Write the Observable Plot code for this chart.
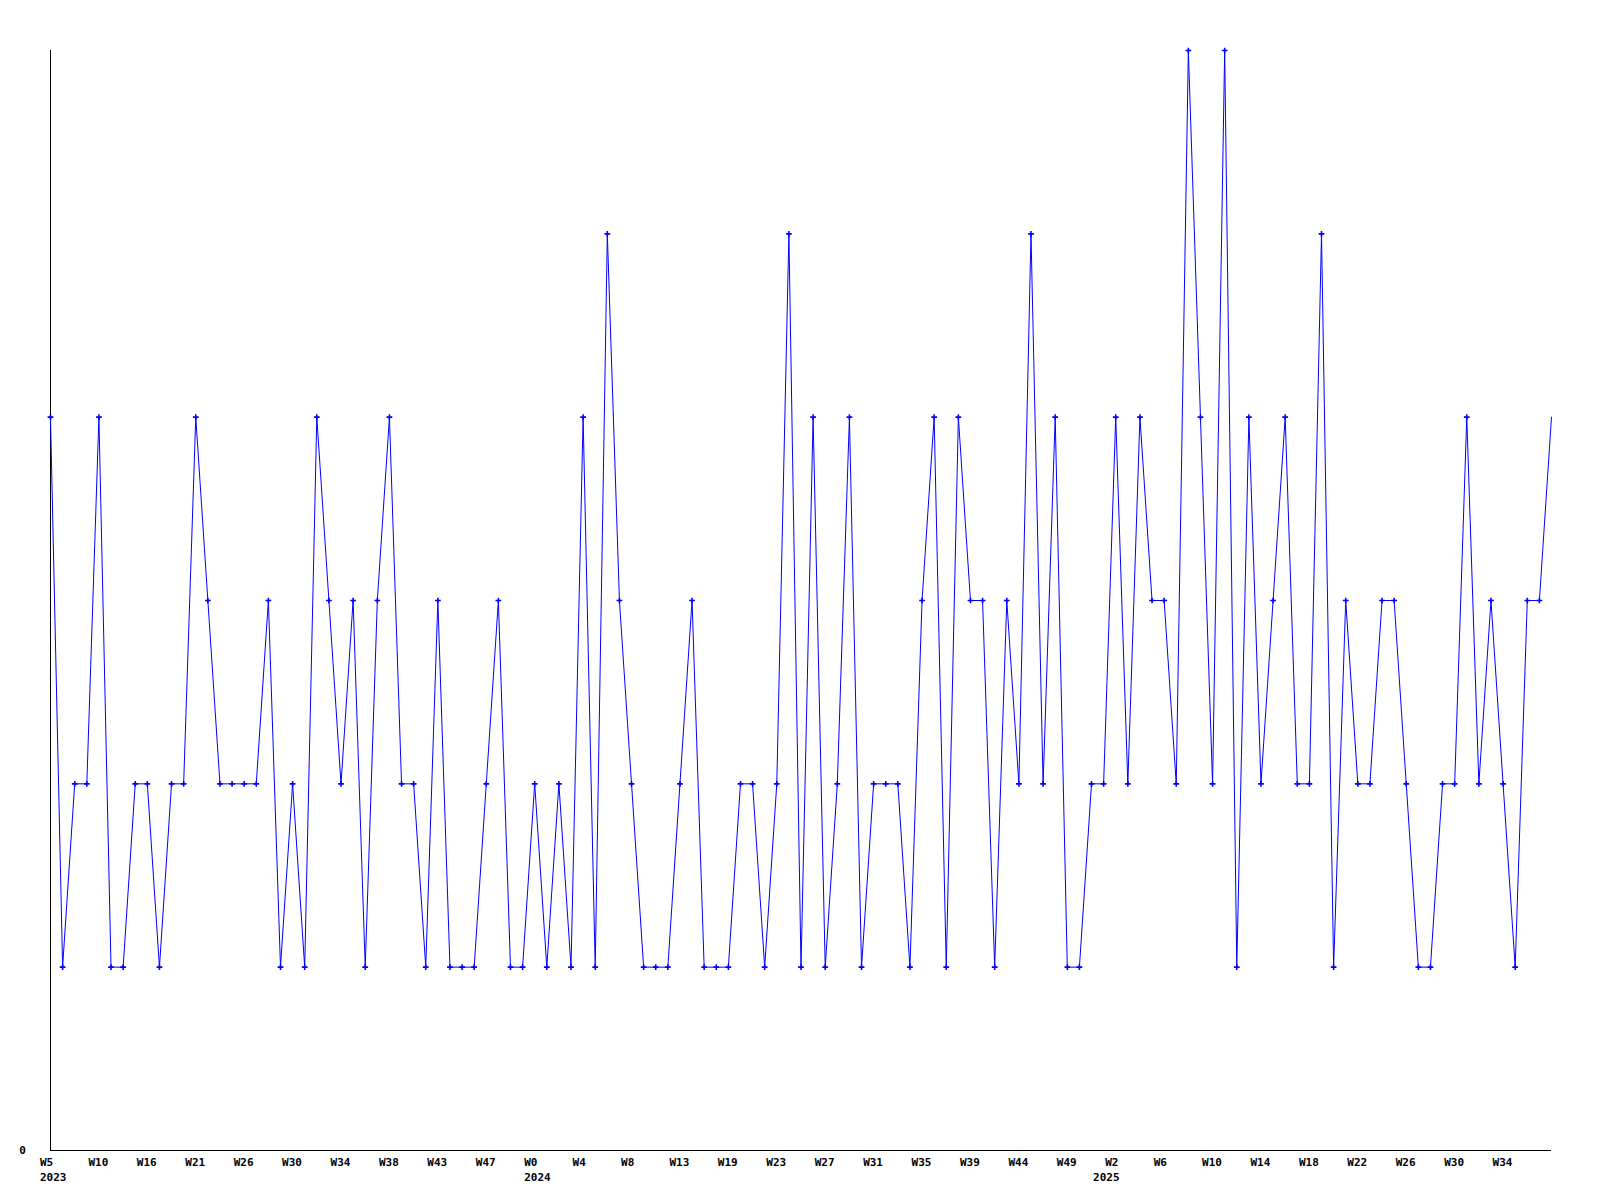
<!DOCTYPE html>
<html>
<head>
<meta charset="utf-8">
<script src="https://cdn.jsdelivr.net/npm/d3@7"></script>
<script src="https://cdn.jsdelivr.net/npm/@observablehq/plot@0.6"></script>
<style>
  html, body { margin: 0; padding: 0; background: #fff; overflow: hidden; }
  #chart svg { display: block; }
</style>
</head>
<body>
<div id="chart"></div>
<script>
// Weekly counts, one per data point (125 weeks)
const values = [
  4,1,2,2,4,1,1,2,2,1,
  2,2,4,3,2,2,2,2,3,1,
  2,1,4,3,2,3,1,3,4,2,
  2,1,3,1,1,1,2,3,1,1,
  2,1,2,1,4,1,5,3,2,1,
  1,1,2,3,1,1,1,2,2,1,
  2,5,1,4,1,2,4,1,2,2,
  2,1,3,4,1,4,3,3,1,3,
  2,5,2,4,1,1,2,2,4,2,
  4,3,3,2,6,4,2,6,1,4,
  2,3,4,2,2,5,1,3,2,2,
  3,3,2,1,1,2,2,4,2,3,
  2,1,3,3,4
];

// x tick labels, one every 4 data points
const weekLabels = [
  "W5","W10","W16","W21","W26","W30","W34","W38","W43","W47",
  "W0","W4","W8","W13","W19","W23","W27","W31","W35","W39",
  "W44","W49","W2","W6","W10","W14","W18","W22","W26","W30","W34"
];
const tickStep = 4;
// year labels and the data point (week index) they sit under
const yearLabels = ["2023", "2024", "2025"];
const yearIndex = [0, 40, 87];
const yTickLabels = [{v: 0, label: "0"}];

const data = values.map((v, i) => ({i, v}));
const markerData = data.slice(0, data.length - 1); // final (current) week drawn without a marker
const ticks = weekLabels.map((label, k) => ({i: k * tickStep, label}));
const years = yearLabels.map((label, k) => ({i: yearIndex[k], label}));

const font = "'DejaVu Sans Mono', 'Liberation Mono', monospace";

const chart = Plot.plot({
  width: 1600,
  height: 1200,
  marginLeft: 50,
  marginRight: 49,
  marginTop: 50,
  marginBottom: 50,
  style: {background: "#fff", fontFamily: font, fontSize: "11px", fontWeight: "bold", color: "#000"},
  x: {type: "linear", domain: [0, values.length - 1], axis: null},
  y: {type: "linear", domain: [0, 6], axis: null},
  marks: [
    Plot.ruleX([0], {y1: 0, y2: 6, stroke: "#000", strokeWidth: 1}),
    Plot.ruleY([0], {x1: 0, x2: values.length - 1, stroke: "#000", strokeWidth: 1}),
    Plot.line(data, {x: "i", y: "v", stroke: "#0000ff", strokeWidth: 1}),
    Plot.dot(markerData, {x: "i", y: "v", symbol: "plus", r: 2, fill: "none", stroke: "#0000ff", strokeWidth: 1.6}),
    Plot.text(ticks, {x: "i", y: 0, text: "label", textAnchor: "start", dx: -10.5, dy: 12, fill: "#000", fontWeight: "bold", fontFamily: font, fontSize: 11}),
    Plot.text(years, {x: "i", y: 0, text: "label", textAnchor: "start", dx: -10.5, dy: 27, fill: "#000", fontWeight: "bold", fontFamily: font, fontSize: 11}),
    Plot.text(yTickLabels, {x: 0, y: "v", text: "label", textAnchor: "middle", dx: -28, dy: 0, fill: "#000", fontWeight: "bold", fontFamily: font, fontSize: 11})
  ]
});

document.getElementById("chart").appendChild(chart);
</script>
</body>
</html>
